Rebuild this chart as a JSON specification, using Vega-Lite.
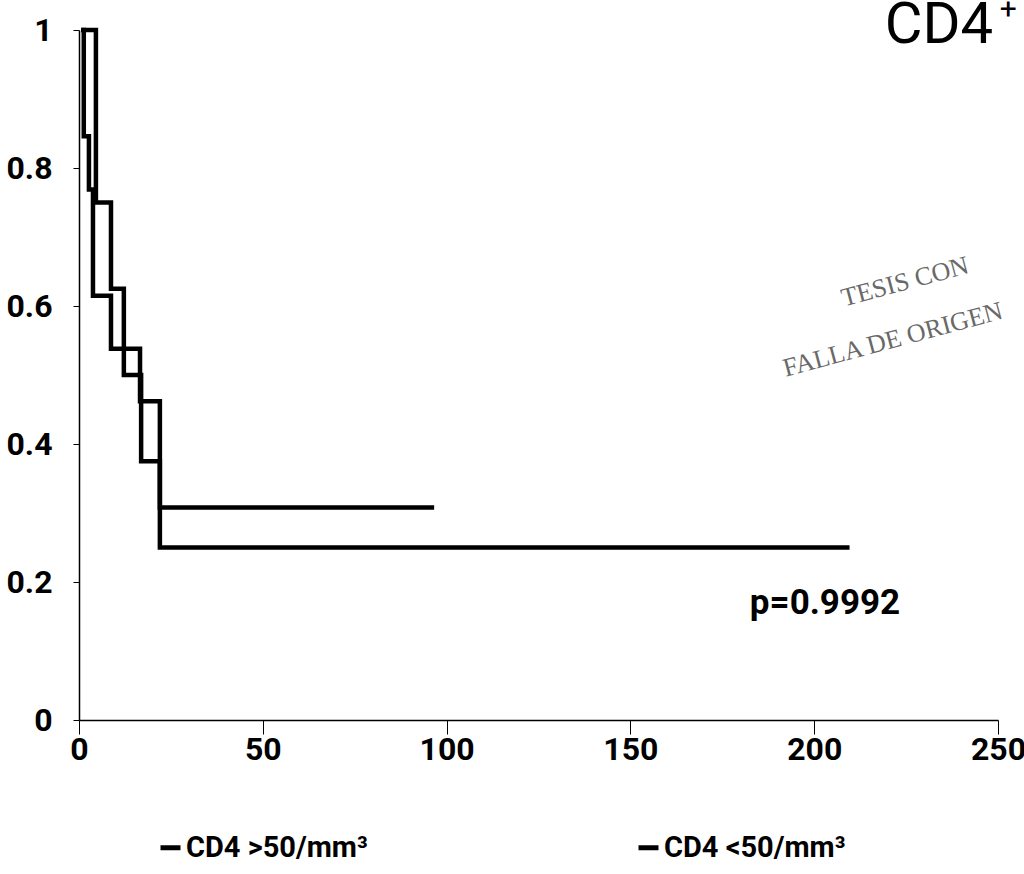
{
  "$schema": "https://vega.github.io/schema/vega-lite/v6.json",
  "width": 919,
  "height": 690,
  "autosize": {"type": "none"},
  "padding": {"left": 79, "top": 30, "right": 26, "bottom": 154},
  "background": "white",
  "config": {"view": {"stroke": null}},
  "datasets": {
    "curves": [
      {"g": "CD4 >50/mm³", "t": 1.2, "s": 1},
      {"g": "CD4 >50/mm³", "t": 1.3, "s": 0.846},
      {"g": "CD4 >50/mm³", "t": 2.7, "s": 0.769},
      {"g": "CD4 >50/mm³", "t": 3.8, "s": 0.615},
      {"g": "CD4 >50/mm³", "t": 8.7, "s": 0.538},
      {"g": "CD4 >50/mm³", "t": 16.6, "s": 0.462},
      {"g": "CD4 >50/mm³", "t": 22, "s": 0.308},
      {"g": "CD4 >50/mm³", "t": 96, "s": 0.308},
      {"g": "CD4 <50/mm³", "t": 1.2, "s": 1},
      {"g": "CD4 <50/mm³", "t": 4.6, "s": 0.75},
      {"g": "CD4 <50/mm³", "t": 8.7, "s": 0.625},
      {"g": "CD4 <50/mm³", "t": 12.2, "s": 0.5},
      {"g": "CD4 <50/mm³", "t": 16.9, "s": 0.375},
      {"g": "CD4 <50/mm³", "t": 22, "s": 0.25},
      {"g": "CD4 <50/mm³", "t": 209, "s": 0.25}
    ],
    "pval": [{"t": 182.5, "s": 0.17, "label": "p=0.9992"}],
    "title": [{"t": 248.7, "s": 0.981, "label": "CD4"}],
    "plus": [{"t": 250.5, "s": 1.016, "label": "+"}],
    "stamp": [
      {"t": 224.7, "s": 0.635, "label": "TESIS CON"},
      {"t": 221.4, "s": 0.551, "label": "FALLA DE ORIGEN"}
    ]
  },
  "layer": [
    {
      "data": {"name": "curves"},
      "mark": {"type": "line", "interpolate": "step-after", "strokeWidth": 4.5, "strokeCap": "square", "strokeJoin": "miter", "clip": false},
      "encoding": {
        "x": {
          "field": "t", "type": "quantitative",
          "scale": {"domain": [0, 250], "nice": false, "zero": false},
          "axis": {
            "values": [0, 50, 100, 150, 200, 250], "grid": false, "title": null,
            "domainColor": "black", "domainWidth": 1.5, "tickColor": "black", "tickWidth": 1, "tickSize": 14,
            "labelFont": "Roboto", "labelFontSize": 32, "labelFontWeight": "bold",
            "labelColor": "black", "labelPadding": 0, "labelFlush": false, "labelOverlap": false
          }
        },
        "y": {
          "field": "s", "type": "quantitative",
          "scale": {"domain": [0, 1], "nice": false},
          "axis": {
            "values": [0, 0.2, 0.4, 0.6, 0.8, 1], "format": ".1~f", "grid": false, "title": null,
            "domainColor": "black", "domainWidth": 1.5, "tickColor": "black", "tickWidth": 1, "tickSize": 6,
            "labelFont": "Roboto", "labelFontSize": 32, "labelFontWeight": "bold",
            "labelColor": "black", "labelPadding": 21, "labelFlush": false, "labelOverlap": false
          }
        },
        "color": {
          "field": "g", "type": "nominal",
          "scale": {"domain": ["CD4 >50/mm³", "CD4 <50/mm³"], "range": ["#000000", "#000000"]},
          "legend": {
            "orient": "none", "legendX": 77, "legendY": 803, "direction": "horizontal", "columns": 2,
            "columnPadding": 260, "title": null, "symbolType": "stroke", "symbolSize": 400, "symbolStrokeWidth": 5,
            "symbolStrokeColor": "black",
            "labelFont": "Roboto", "labelFontSize": 29, "labelFontWeight": "bold",
            "labelColor": "black", "labelOffset": 1, "labelLimit": 0
          }
        }
      }
    },
    {
      "data": {"name": "pval"},
      "mark": {"type": "text", "align": "left", "baseline": "middle", "font": "Roboto", "fontSize": 35, "fontWeight": "bold", "color": "black"},
      "encoding": {
        "x": {"field": "t", "type": "quantitative"},
        "y": {"field": "s", "type": "quantitative"},
        "text": {"field": "label"}
      }
    },
    {
      "data": {"name": "title"},
      "mark": {"type": "text", "align": "right", "baseline": "alphabetic", "font": "Roboto", "fontSize": 58, "fontWeight": "normal", "color": "black"},
      "encoding": {
        "x": {"field": "t", "type": "quantitative"},
        "y": {"field": "s", "type": "quantitative"},
        "text": {"field": "label"}
      }
    },
    {
      "data": {"name": "plus"},
      "mark": {"type": "text", "align": "left", "baseline": "alphabetic", "font": "Roboto", "fontSize": 30, "fontWeight": "normal", "color": "black"},
      "encoding": {
        "x": {"field": "t", "type": "quantitative"},
        "y": {"field": "s", "type": "quantitative"},
        "text": {"field": "label"}
      }
    },
    {
      "data": {"name": "stamp"},
      "mark": {"type": "text", "align": "center", "baseline": "middle", "angle": 345, "font": "Liberation Serif", "fontSize": 26, "fontWeight": "normal", "color": "#444444", "opacity": 0.8},
      "encoding": {
        "x": {"field": "t", "type": "quantitative"},
        "y": {"field": "s", "type": "quantitative"},
        "text": {"field": "label"}
      }
    }
  ]
}
